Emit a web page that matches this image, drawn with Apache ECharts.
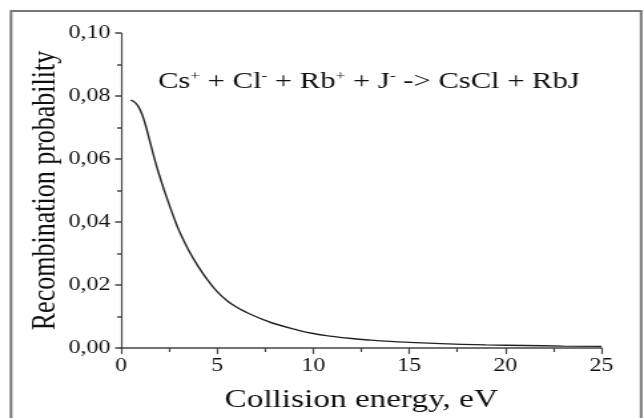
<!DOCTYPE html>
<html>
<head>
<meta charset="utf-8">
<script src="https://cdn.jsdelivr.net/npm/echarts@6/dist/echarts.min.js"></script>
<style>
html,body{margin:0;padding:0;background:#fff;overflow:hidden;width:644px;height:418px;}
#chart{width:484px;height:418px;transform:scaleX(1.3306);transform-origin:0 0;}
</style>
</head>
<body>
<div id="chart"></div>
<script>
var energy = [0.5, 0.75, 1.0, 1.25, 1.5, 1.75, 2.0, 2.25, 2.5, 2.75, 3.0, 3.5, 4.0, 4.5, 5.0, 5.5, 6.0, 6.5, 7.0, 7.5, 8.0, 9.0, 10, 11, 12, 13, 14, 15, 17, 19, 21, 23, 25];
var probability = [0.0787, 0.0778, 0.0755, 0.0712, 0.0655, 0.0598, 0.0546, 0.0500, 0.0456, 0.0414, 0.0375, 0.0312, 0.0260, 0.0216, 0.0179, 0.0151, 0.0130, 0.0114, 0.0100, 0.0088, 0.0077, 0.0060, 0.0046, 0.0037, 0.0030, 0.0025, 0.0021, 0.0018, 0.0013, 0.0010, 0.0008, 0.0006, 0.0005];
var xTitle = 'Collision energy, eV';
var yTitle = 'Recombination probability';

var font = '"Liberation Serif", "DejaVu Serif", serif';
var chart = echarts.init(document.getElementById('chart'));
chart.setOption({
  animation: false,
  backgroundColor: '#fff',
  grid: {left: 91, right: 32, top: 33, bottom: 70},
  graphic: [
    {type: 'rect', shape: {x: 8.3, y: 11, width: 473.5, height: 420},
     style: {fill: 'none', stroke: '#777', lineWidth: 2}, z: -1},
    {type: 'text', left: 118.7, top: 70,
     style: {rich: {n: {fontFamily: font, fontSize: 23, fill: '#111'},
                     s: {fontFamily: font, fontSize: 13, fill: '#111', verticalAlign: 'top', padding: [0,0,11,0]}},
             text: '{n|Cs}{s|+}{n| + Cl}{s|-}{n| + Rb}{s|+}{n| + J}{s|-}{n| -> CsCl + RbJ}'}}
  ],
  xAxis: {
    type: 'value', min: 0, max: 25, interval: 5,
    name: xTitle, nameLocation: 'middle', nameGap: 40, nameMoveOverlap: false,
    nameTextStyle: {fontFamily: font, fontSize: 25, color: '#111'},
    axisLine: {lineStyle: {color: '#444', width: 1.5}},
    axisTick: {length: 6, lineStyle: {color: '#444', width: 1.2}},
    minorTick: {show: true, splitNumber: 2, length: 4, lineStyle: {color: '#444', width: 1.2}},
    splitLine: {show: false},
    axisLabel: {fontFamily: font, fontSize: 18, color: '#111', margin: 9}
  },
  yAxis: {
    type: 'value', min: 0, max: 0.1, interval: 0.02,
    name: yTitle, nameLocation: 'middle', nameGap: 44, nameRotate: 90, nameMoveOverlap: false,
    nameTextStyle: {fontFamily: font, fontSize: 26, color: '#111'},
    axisLine: {show: true, lineStyle: {color: '#444', width: 1.2}},
    axisTick: {show: true, length: 4.5, lineStyle: {color: '#444', width: 1.5}},
    minorTick: {show: true, splitNumber: 2, length: 3, lineStyle: {color: '#444', width: 1.5}},
    splitLine: {show: false},
    axisLabel: {fontFamily: font, fontSize: 18, color: '#111', margin: 8,
      formatter: function (v) { return v.toFixed(2).replace('.', ','); }}
  },
  series: [{
    type: 'line', smooth: true, showSymbol: false,
    data: energy.map(function (e, i) { return [e, probability[i]]; }),
    lineStyle: {color: '#222', width: 1.4}
  }]
});
</script>
</body>
</html>
